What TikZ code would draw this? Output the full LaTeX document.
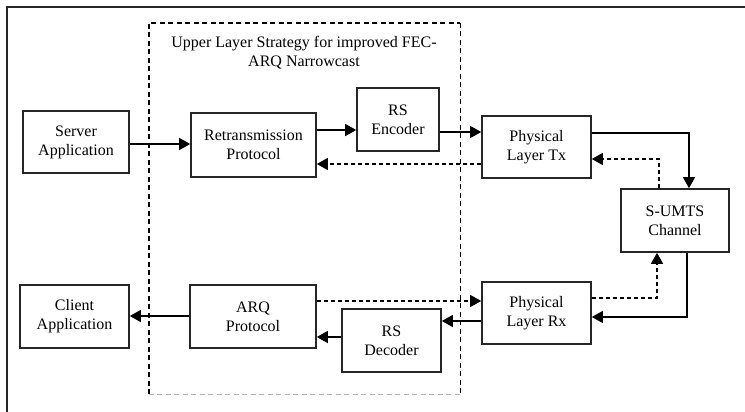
\documentclass[tikz,border=0pt]{standalone}
\usepackage{fontspec}
\setmainfont{Liberation Serif}
\usetikzlibrary{arrows.meta,calc}
\begin{document}
\begin{tikzpicture}[x=1pt,y=-1pt,
  blk/.style={draw=black!85,line width=1.6pt,rectangle,align=center,inner sep=0pt,
    font=\fontsize{16}{19}\selectfont},
  arr/.style={line width=1.3pt,-{Triangle[length=11pt,width=12pt]}},
  darr/.style={arr,dash pattern=on 4pt off 3pt},
  dashbox/.style={line width=1.6pt,dash pattern=on 5pt off 3.5pt}
]
\useasboundingbox (0,0) rectangle (745,412);
% outer frame
\coordinate (frameBL) at (7,412);
\coordinate (frameTR) at (745,7);
\draw[line width=2pt,black!85] (frameBL) |- (frameTR);
% container
\node[draw=none,minimum width=311pt,minimum height=371pt,inner sep=0pt] (upper) at (304.5,208.5) {};
\draw[dashbox] (upper.south west) |- (upper.north east);
\draw[line width=1pt,dash pattern=on 5pt off 3.5pt] (upper.north east) -- (upper.south east);
\draw[line width=1pt,black!30,dash pattern=on 5pt off 3.5pt] (upper.south west) -- (upper.south east);
\node[align=center,font=\fontsize{16}{19}\selectfont] (title) at (304,53) {Upper Layer Strategy for improved FEC-\\ARQ Narrowcast};
% blocks
\node[blk,minimum width=106pt,minimum height=62pt] (server) at (76,142) {Server\\Application};
\node[blk,minimum width=125pt,minimum height=64pt] (retrans) at (253.5,145) {Retransmission\\Protocol};
\node[blk,minimum width=82pt,minimum height=63pt] (rse) at (398,119.5) {RS\\Encoder};
\node[blk,minimum width=109pt,minimum height=62pt] (tx) at (536.5,147) {Physical\\Layer Tx};
\node[blk,minimum width=108pt,minimum height=63pt] (sumts) at (675,220.5) {S-UMTS\\Channel};
\node[blk,minimum width=109pt,minimum height=62pt] (rx) at (536.5,313) {Physical\\Layer Rx};
\node[blk,minimum width=109pt,minimum height=63pt] (client) at (74.5,316.5) {Client\\Application};
\node[blk,minimum width=126pt,minimum height=63pt] (arq) at (253,316.5) {ARQ\\Protocol};
\node[blk,minimum width=99pt,minimum height=63pt] (rsd) at (391.5,340.5) {RS\\Decoder};
% connectors
\draw[arr] (server.east |- 0,144) -- (retrans.west |- 0,144);
\draw[arr] (retrans.east |- 0,130) -- (rse.west |- 0,130);
\draw[arr] (rse.east |- 0,132) -- (tx.west |- 0,132);
\draw[arr] (tx.east |- 0,133) -| (sumts.north -| 689,0);
\draw[darr] (sumts.north -| 659,0) |- (tx.east |- 0,159);
\draw[darr] (tx.west |- 0,164) -- (retrans.east |- 0,164);
\draw[arr] (sumts.south -| 687,0) |- (rx.east |- 0,317);
\draw[darr] (rx.east |- 0,298) -| (sumts.south -| 657,0);
\draw[darr] (arq.east |- 0,301) -- (rx.west |- 0,301);
\draw[arr] (rx.west |- 0,321) -- (rsd.east |- 0,321);
\draw[arr] (rsd.west |- 0,337) -- (arq.east |- 0,337);
\draw[arr] (arq.west |- 0,316) -- (client.east |- 0,316);
\end{tikzpicture}
\end{document}
